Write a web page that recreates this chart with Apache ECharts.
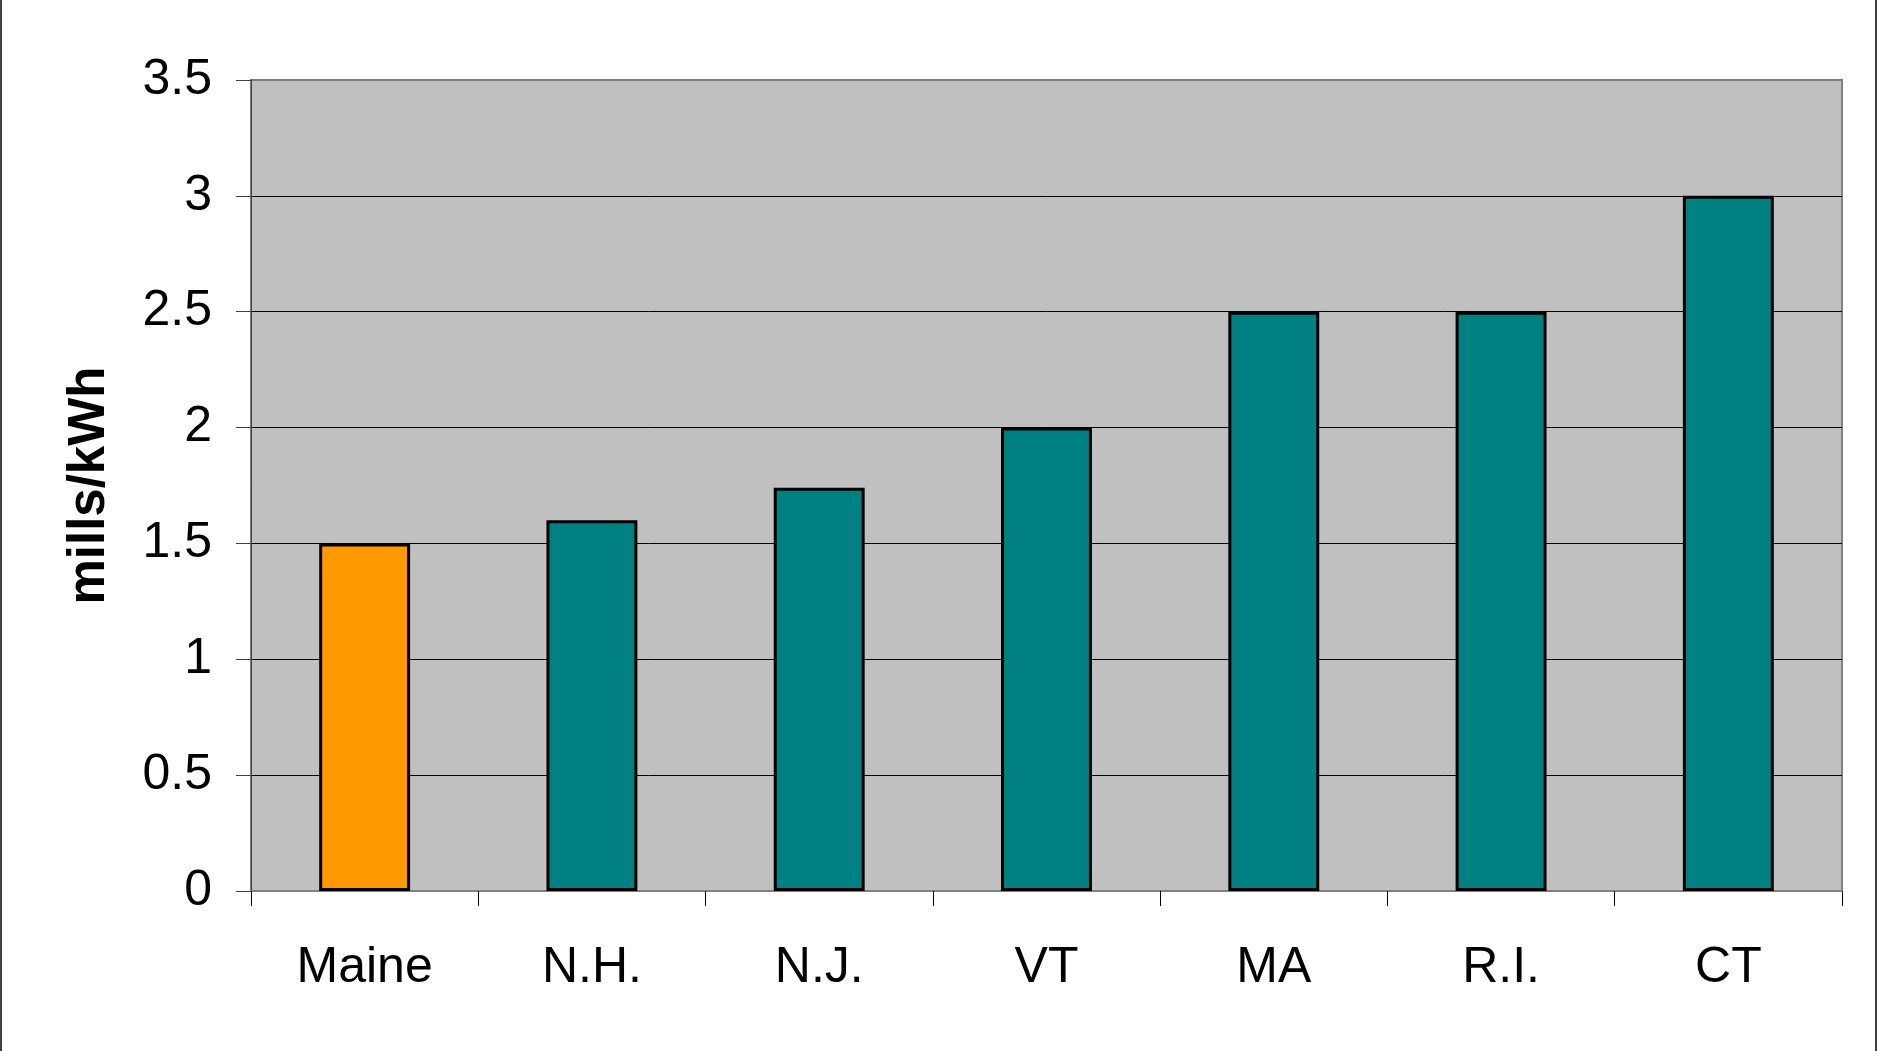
<!DOCTYPE html>
<html>
<head>
<meta charset="utf-8">
<script src="https://cdn.jsdelivr.net/npm/echarts@6/dist/echarts.min.js"></script>
<style>
  html, body { margin: 0; padding: 0; background: #fff; }
  #main { width: 1878px; height: 1051px; }
</style>
</head>
<body>
<div id="main"></div>
<script>
// data
var states = ["Maine", "N.H.", "N.J.", "VT", "MA", "R.I.", "CT"];
var millsPerKwh = [1.5, 1.6, 1.74, 2, 2.5, 2.5, 3];
var highlightState = "Maine";

var chartDom = document.getElementById("main");
var myChart = echarts.init(chartDom);

var font = "'Liberation Sans', Arial, sans-serif";

var option = {
  animation: false,
  backgroundColor: "#fff",
  graphic: [
    {
      type: "line",
      shape: { x1: 1, y1: 0, x2: 1, y2: 1051 },
      style: { stroke: "#404040", lineWidth: 2 }
    },
    {
      type: "line",
      shape: { x1: 1876, y1: 0, x2: 1876, y2: 1051 },
      style: { stroke: "#404040", lineWidth: 2 }
    }
  ],
  grid: {
    left: 251,
    right: 36,
    top: 80,
    bottom: 160,
    show: true,
    backgroundColor: "#C0C0C0",
    borderColor: "#808080",
    borderWidth: 2
  },
  xAxis: {
    type: "category",
    data: states,
    axisLine: { lineStyle: { color: "#808080", width: 2 } },
    axisTick: { show: true, length: 15, lineStyle: { color: "#000", width: 1 } },
    axisLabel: {
      color: "#000",
      fontFamily: font,
      fontSize: 50,
      margin: 52
    }
  },
  yAxis: {
    type: "value",
    min: 0,
    max: 3.5,
    interval: 0.5,
    name: "mills/kWh",
    nameLocation: "middle",
    nameGap: 136,
    nameRotate: 90,
    nameTextStyle: {
      color: "#000",
      fontFamily: font,
      fontSize: 51,
      fontWeight: "bold"
    },
    axisLine: { show: true, lineStyle: { color: "#404040", width: 1 } },
    axisTick: { show: true, length: 15, lineStyle: { color: "#404040", width: 1 } },
    axisLabel: {
      color: "#000",
      fontFamily: font,
      fontSize: 50,
      margin: 39
    },
    splitLine: {
      show: true,
      lineStyle: {
        color: ["#000", "#000", "#000", "#000", "#000", "#000", "#000", "#808080"],
        width: 1
      }
    }
  },
  series: [
    {
      type: "bar",
      data: millsPerKwh,
      barWidth: "40%",
      itemStyle: {
        color: function (p) {
          return p.name === highlightState ? "#FF9900" : "#008080";
        },
        borderColor: "#000",
        borderWidth: 3
      }
    }
  ]
};

myChart.setOption(option);
</script>
</body>
</html>
